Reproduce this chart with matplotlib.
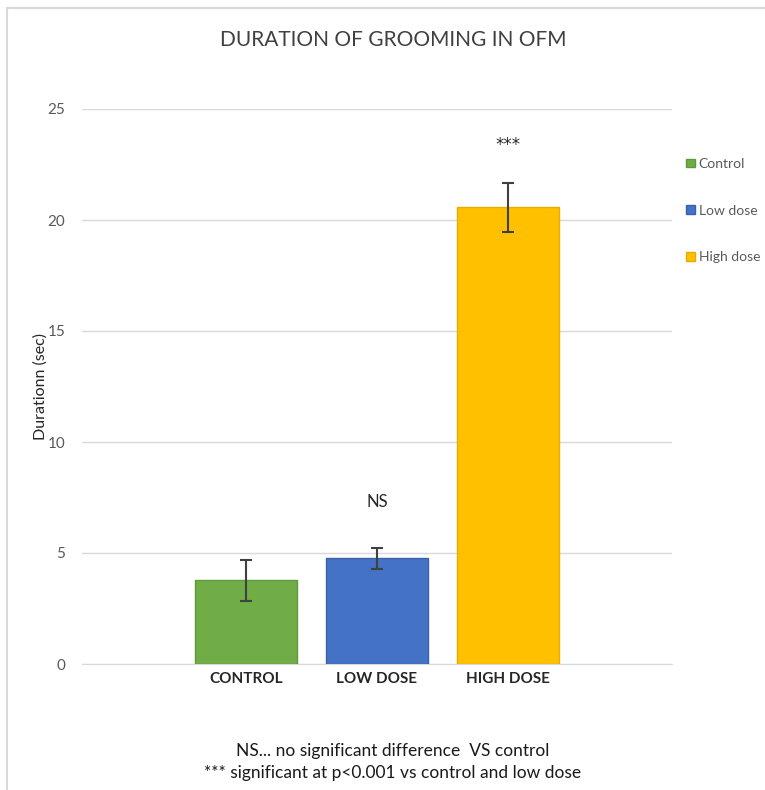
import matplotlib.pyplot as plt
from matplotlib.patches import Rectangle

plt.rcParams['font.family'] = ['Lato', 'DejaVu Sans']

categories = ['CONTROL', 'LOW DOSE', 'HIGH DOSE']
series = ['Control', 'Low dose', 'High dose']
values = [3.77, 4.76, 20.57]
errors = [0.93, 0.48, 1.09]
marks = ['', 'NS', '***']
colors = ['#70AD47', '#4472C4', '#FFC000']
edges = ['#5F9A3A', '#3A62AB', '#E6AD00']

fig = plt.figure(figsize=(7.65, 7.9), dpi=100)
ax = fig.add_axes([82 / 765, 126 / 790, 590 / 765, 555 / 790])

x = range(len(categories))
for i in x:
    ax.bar(i, values[i], width=0.78, color=colors[i], edgecolor=edges[i],
           linewidth=1, label=series[i], zorder=3)
    ax.errorbar(i, values[i], yerr=errors[i], color='#404040', capsize=4,
                capthick=1.5, elinewidth=1.5, zorder=4)
    if marks[i] == 'NS':
        ax.text(i, values[i] + errors[i] + 2.05, marks[i], ha='center',
                va='center', fontsize=12, color='#262626')
    elif marks[i]:
        ax.text(i, values[i] + errors[i] + 1.7, marks[i], ha='center',
                va='center', fontsize=12, color='#262626',
                family='DejaVu Sans')

ax.set_xlim(-1.25, 3.25)
ax.set_ylim(0, 25)
ax.set_yticks([0, 5, 10, 15, 20, 25])
ax.set_xticks(list(x))
ax.set_xticklabels(categories, fontweight='bold', fontsize=11, color='#262626')
ax.tick_params(axis='y', length=0, labelsize=11, labelcolor='#595959', pad=12)
ax.tick_params(axis='x', length=0, pad=6)
ax.grid(axis='y', color='#D9D9D9', linewidth=1, zorder=0)
for s in ['top', 'right', 'left']:
    ax.spines[s].set_visible(False)
ax.spines['bottom'].set_color('#D9D9D9')
ax.set_ylabel('Durationn (sec)', fontsize=11.5, color='#262626')
ax.yaxis.set_label_coords(-0.058, 0.5)

fig.text(393 / 765, 1 - 40 / 790, 'DURATION OF GROOMING IN OFM', ha='center',
         va='center', fontsize=15, color='#404040')

leg = ax.legend(loc='upper left', bbox_to_anchor=(1.01, 0.927), frameon=False,
                fontsize=10, handlelength=0.6, handleheight=0.6,
                handletextpad=0.3, labelspacing=2.5, labelcolor='#595959',
                borderaxespad=0.2)

fig.text(393 / 765, 1 - 751 / 790, 'NS... no significant difference  VS control',
         ha='center', va='center', fontsize=12.5, color='#1a1a1a')
fig.text(393 / 765, 1 - 773 / 790, '*** significant at p<0.001 vs control and low dose',
         ha='center', va='center', fontsize=12.5, color='#1a1a1a')

fig.patches.append(Rectangle((7 / 765, -0.1), 1.2, 1 - 8 / 790 + 0.1,
                             transform=fig.transFigure, fill=False,
                             edgecolor='#D9D9D9', linewidth=1.5))

fig.savefig('out.png', dpi=100)
